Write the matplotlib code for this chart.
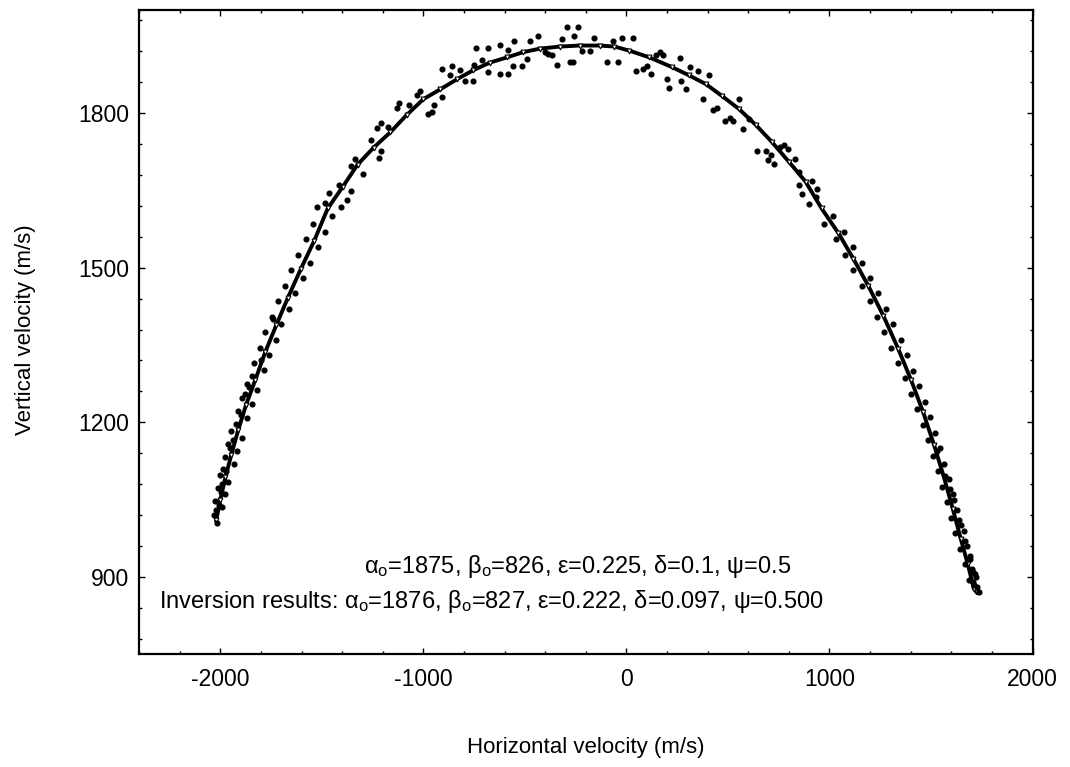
import matplotlib
matplotlib.use('Agg')
import matplotlib.pyplot as plt
from matplotlib.ticker import MultipleLocator

# fitted curve
curve_h = [-2020, -2000, -1975, -1946, -1912, -1873, -1828, -1779, -1725, -1667,
           -1603, -1539, -1471, -1397, -1324, -1245, -1162, -1083, -1000, -917,
           -833, -755, -672, -588, -510, -426, -328, -230, -132, -59,
           15, 113, 225, 309, 392, 471, 554, 637, 716, 799,
           882, 961, 1044, 1118, 1191, 1265, 1338, 1402, 1461, 1515,
           1564, 1608, 1647, 1681, 1711, 1725]
curve_v = [1010, 1050, 1093, 1137, 1185, 1234, 1282, 1336, 1388, 1442,
           1498, 1551, 1615, 1657, 1700, 1733, 1763, 1796, 1827, 1846,
           1866, 1883, 1898, 1908, 1918, 1925, 1929, 1931, 1931, 1929,
           1921, 1908, 1889, 1873, 1856, 1833, 1808, 1777, 1744, 1706,
           1667, 1615, 1567, 1517, 1465, 1407, 1343, 1282, 1220, 1156,
           1093, 1031, 973, 925, 877, 870]

# noisy picks, left flank
left_h = [-2030, -1990, -2025, -1975, -2010, -1960, -2000, -1985, -1935, -1975,
          -1920, -1960, -1895, -1945, -1925, -1870, -1915, -1845, -1895, -1820,
          -1870, -1845, -1785, -1835, -1760, -1805, -1725, -1780, -1700, -1745,
          -1660, -1715, -1630, -1680, -1595, -1650, -1560, -1615, -1520, -1580,
          -1485, -1545, -1450, -2015, -2005, -1995, -2020, -1990, -1970, -1950,
          -1940, -1900, -1880, -1860, -1800, -1740]
left_v = [1020, 1035, 1048, 1060, 1072, 1085, 1098, 1110, 1120, 1133,
          1145, 1158, 1170, 1183, 1196, 1208, 1222, 1235, 1248, 1262,
          1275, 1290, 1302, 1316, 1330, 1345, 1360, 1375, 1390, 1405,
          1420, 1435, 1450, 1465, 1480, 1495, 1510, 1525, 1540, 1555,
          1570, 1585, 1600, 1005, 1040, 1065, 1030, 1080, 1105, 1150,
          1165, 1215, 1255, 1268, 1320, 1400]

# noisy picks, top
top_h = [-1525, -1485, -1466, -1407, -1377, -1358, -1417, -1358, -1338, -1299,
         -1260, -1221, -1211, -1230, -1211, -1176, -1132, -1118, -1069, -1029,
         -1015, -975, -956, -946, -907, -907, -858, -868, -819, -794,
         -755, -750, -740, -711, -681, -681, -623, -623, -583, -583,
         -554, -559, -515, -490, -475, -436,
         -294, -240, -260, -319, -343, -279, -265, -368, -402, -387,
         -221, -181, -162, -98, -64, -44, -20, 34, 49, 83,
         103, 123, 147, 167, 181, 201, 211, 265, 270, 294,
         314, 353, 377, 407, 426, 446, 485, 510, 525, 554,
         574, 603, 642, 686, 696, 711, 725, 755, 775, 794,
         828, 848, 848, 863, 897, 912, 936, 940]
top_v = [1617, 1625, 1644, 1617, 1632, 1648, 1661, 1698, 1711, 1682,
         1748, 1713, 1727, 1771, 1781, 1773, 1810, 1819, 1815, 1835,
         1842, 1798, 1802, 1815, 1831, 1885, 1892, 1873, 1883, 1862,
         1862, 1894, 1927, 1902, 1927, 1879, 1933, 1875, 1923, 1875,
         1939, 1892, 1892, 1904, 1939, 1950,
         1966, 1966, 1950, 1943, 1894, 1900, 1900, 1912, 1918, 1914,
         1921, 1920, 1945, 1900, 1939, 1900, 1945, 1945, 1881, 1885,
         1892, 1875, 1912, 1919, 1912, 1867, 1848, 1906, 1862, 1846,
         1889, 1881, 1827, 1873, 1806, 1810, 1785, 1790, 1785, 1827,
         1769, 1788, 1727, 1727, 1708, 1719, 1702, 1734, 1738, 1731,
         1711, 1686, 1661, 1642, 1623, 1669, 1638, 1652]

# noisy picks, right flank
right_h = [1015, 975, 1070, 1030, 1115, 1075, 1160, 1115, 1200, 1160,
           1240, 1200, 1280, 1235, 1315, 1270, 1350, 1305, 1380, 1335,
           1410, 1370, 1440, 1400, 1470, 1430, 1495, 1460, 1520, 1485,
           1545, 1510, 1565, 1535, 1590, 1555, 1610, 1580, 1630, 1600,
           1650, 1620, 1668, 1642, 1690, 1665, 1708, 1685, 1728, 1712,
           1720, 1700, 1735, 1660, 1640, 1615, 1595, 1570, 1530, 1690,
           1675, 1715, 1705]
right_v = [1600, 1585, 1570, 1555, 1540, 1525, 1510, 1495, 1480, 1465,
           1450, 1435, 1420, 1405, 1390, 1375, 1360, 1345, 1330, 1315,
           1300, 1285, 1270, 1255, 1240, 1225, 1210, 1195, 1180, 1165,
           1150, 1135, 1120, 1105, 1090, 1075, 1060, 1045, 1030, 1015,
           1000, 985, 970, 955, 940, 925, 910, 895, 880, 885,
           900, 915, 870, 990, 1010, 1050, 1070, 1095, 1145, 935,
           960, 905, 890]

plt.rcParams['font.family'] = 'Liberation Sans'
plt.rcParams['mathtext.fontset'] = 'custom'
plt.rcParams['mathtext.rm'] = 'Liberation Sans'
plt.rcParams['mathtext.it'] = 'Liberation Sans'
plt.rcParams['mathtext.default'] = 'regular'
plt.rcParams['axes.unicode_minus'] = False

fig = plt.figure(figsize=(10.7, 7.67), dpi=100)
ax = fig.add_axes([0.130, 0.147, 0.835, 0.840])

ax.plot(curve_h, curve_v, color='black', lw=2.8, zorder=3)
ax.plot(curve_h, curve_v, 'v', ms=3.5, mfc='white', mec='black', mew=0.8, zorder=4)
for h, v in [(left_h, left_v), (top_h, top_v), (right_h, right_v)]:
    ax.plot(h, v, 'o', ms=3.4, color='black', zorder=5)

ax.set_xlim(-2400, 2000)
ax.set_ylim(750, 2000)
ax.xaxis.set_major_locator(MultipleLocator(1000))
ax.xaxis.set_minor_locator(MultipleLocator(200))
ax.yaxis.set_major_locator(MultipleLocator(300))
ax.yaxis.set_minor_locator(MultipleLocator(60))
ax.tick_params(which='both', direction='in', top=True, right=True, width=1, labelsize=16.5)
ax.tick_params(which='major', length=4)
ax.tick_params(which='minor', length=2.5)
ax.tick_params(axis='x', pad=10)
ax.tick_params(axis='y', pad=7)
for s in ax.spines.values():
    s.set_linewidth(1.6)

ax.text(-240, 921, 'α$_o$=1875, β$_o$=826, ε=0.225, δ=0.1, ψ=0.5',
        ha='center', va='center', fontsize=17)
ax.text(-2300, 852, 'Inversion results: α$_o$=1876, β$_o$=827, ε=0.222, δ=0.097, ψ=0.500',
        ha='left', va='center', fontsize=17)

fig.text(0.547, 0.025, 'Horizontal velocity (m/s)', ha='center', va='center', fontsize=16)
fig.text(0.024, 0.57, 'Vertical velocity (m/s)', ha='center', va='center',
         rotation=90, fontsize=16)

fig.savefig('out.png', dpi=100)
